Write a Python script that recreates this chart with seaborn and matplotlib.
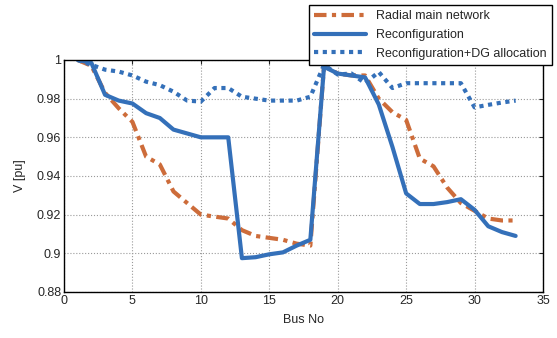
import numpy as np
import pandas as pd
import matplotlib
matplotlib.use('Agg')
import matplotlib.pyplot as plt
import seaborn as sns

# bus voltages
bus = list(range(1, 34))
radial = [1.000, 0.997, 0.983, 0.975, 0.968, 0.950, 0.946, 0.932, 0.926, 0.920,
          0.919, 0.918, 0.912, 0.909, 0.908, 0.907, 0.905, 0.904, 0.997, 0.993,
          0.992, 0.992, 0.980, 0.973, 0.969, 0.949, 0.945, 0.934, 0.926, 0.922,
          0.918, 0.917, 0.917]
reconf = [1.000, 0.9985, 0.982, 0.979, 0.9775, 0.9725, 0.970, 0.964, 0.962, 0.960,
          0.960, 0.960, 0.8975, 0.898, 0.8995, 0.9005, 0.904, 0.907, 0.9965, 0.993,
          0.992, 0.991, 0.977, 0.955, 0.931, 0.9255, 0.9255, 0.9265, 0.928, 0.9225,
          0.914, 0.911, 0.909]
reconf_dg = [1.000, 0.9975, 0.995, 0.994, 0.992, 0.9888, 0.987, 0.9836, 0.979, 0.9785,
             0.9855, 0.9855, 0.981, 0.980, 0.979, 0.979, 0.979, 0.981, 0.9975, 0.9925,
             0.993, 0.988, 0.9938, 0.9855, 0.988, 0.988, 0.988, 0.988, 0.988, 0.9755,
             0.9768, 0.978, 0.979]

labels = ['Radial main network', 'Reconfiguration', 'Reconfiguration+DG allocation']

df = pd.DataFrame({'bus': bus * 3,
                   'V': radial + reconf + reconf_dg,
                   'case': [labels[0]] * 33 + [labels[1]] * 33 + [labels[2]] * 33})

sns.set_style('white')
plt.rcParams['font.family'] = ['Liberation Sans', 'DejaVu Sans']

fig, ax = plt.subplots(figsize=(5.57, 3.38), dpi=100)
fig.subplots_adjust(left=64/557, right=543/557, top=1-60/338, bottom=1-292/338)

orange = '#CD6C3A'
blue = '#3470B9'
sns.lineplot(data=df, x='bus', y='V', hue='case', style='case',
             palette=[orange, blue, blue],
             dashes=[(3, 1.3, 1, 1.3), '', (1, 1.1)],
             linewidth=3, ax=ax, legend=False, sort=False)

lines = ax.get_lines()
ax.legend(lines[:3], labels, loc='upper right',
          bbox_to_anchor=(552/557, 1-5/338), bbox_transform=fig.transFigure,
          fancybox=False, edgecolor='black', framealpha=1, fontsize=9,
          handlelength=4.2, borderpad=0.4, labelspacing=0.55, borderaxespad=0)

ax.set_xlim(0, 35)
ax.set_ylim(0.88, 1.0)
ax.set_xticks(np.arange(0, 36, 5))
ax.set_yticks(np.arange(0.88, 1.001, 0.02))
ax.set_yticklabels(['0.88', '0.9', '0.92', '0.94', '0.96', '0.98', '1'])
ax.grid(True, color='#9a9a9a', linestyle=':', linewidth=0.8)
ax.tick_params(direction='in', labelsize=9, length=3, top=True, right=True, pad=2)
for s in ax.spines.values():
    s.set_color('black')
    s.set_linewidth(1)
ax.set_xlabel('Bus No', fontsize=9, labelpad=5)
ax.set_ylabel('V [pu]', fontsize=9, labelpad=8)

fig.savefig('out.png', dpi=100)
